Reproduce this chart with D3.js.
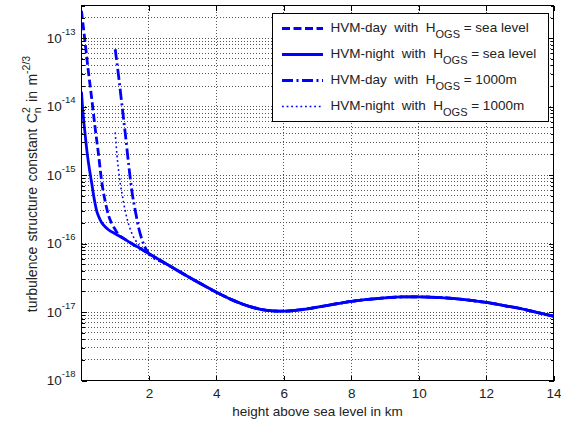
<!DOCTYPE html>
<html><head><meta charset="utf-8">
<script src="https://cdn.jsdelivr.net/npm/d3@7/dist/d3.min.js"></script>
<style>
html,body{margin:0;padding:0;background:#fff;}
svg{display:block;font-family:"Liberation Sans",Arial,Helvetica,sans-serif;}
text{white-space:pre;}
</style></head><body>
<svg id="chart" width="561" height="421"></svg>
<script>
// ---- data (height in km, Cn^2 in m^-2/3) ----
const tailHeights = [2,2.5,3,3.5,4,4.5,5,5.5,6,6.5,7,7.5,8,8.5,9,9.5,10,10.5,11,11.5,12,12.5,13,13.5,14];
const tailCn2 = [7.12e-17,5.10e-17,3.66e-17,2.65e-17,1.95e-17,1.48e-17,1.20e-17,1.06e-17,1.03e-17,1.08e-17,1.18e-17,1.30e-17,1.43e-17,1.53e-17,1.61e-17,1.66e-17,1.67e-17,1.64e-17,1.58e-17,1.49e-17,1.38e-17,1.25e-17,1.13e-17,9.9e-18,8.7e-18];

const daySeaHeights = [0,0.1,0.2,0.3,0.4,0.5,0.6,0.7,0.8,0.9,1.0,1.1,1.25,1.5,1.75];
const daySeaCn2 = [2.5e-13,9.3e-14,3.4e-14,1.35e-14,5.1e-15,2.1e-15,8.0e-16,4.2e-16,2.6e-16,1.95e-16,1.6e-16,1.35e-16,1.19e-16,9.95e-17,8.43e-17];

const nightSeaHeights = [0,0.05,0.1,0.15,0.2,0.25,0.3,0.35,0.4,0.45,0.5,0.6,0.7,0.8,1.0,1.25,1.5,1.75];
const nightSeaCn2 = [1.65e-14,7.5e-15,4.3e-15,2.5e-15,1.6e-15,1.1e-15,7.8e-16,5.4e-16,3.9e-16,3.0e-16,2.55e-16,2.02e-16,1.76e-16,1.59e-16,1.39e-16,1.18e-16,9.95e-17,8.43e-17];

const day1000Heights = [1.0,1.1,1.2,1.3,1.4,1.5,1.6,1.7,1.8,1.9];
const day1000Cn2 = [6.9e-14,2.8e-14,1.05e-14,4.0e-15,1.4e-15,5.6e-16,2.95e-16,1.66e-16,1.12e-16,8.5e-17];

const night1000Heights = [1.0,1.05,1.1,1.15,1.2,1.3,1.4,1.5,1.6,1.7,1.8];
const night1000Cn2 = [4.2e-15,2.0e-15,1.17e-15,7.6e-16,5.4e-16,2.95e-16,1.9e-16,1.38e-16,1.12e-16,9.5e-17,8.5e-17];

const xTickValues = [2,4,6,8,10,12,14];
const yTickExponents = [-18,-17,-16,-15,-14,-13];
const legendModels = ["HVM-day","HVM-night","HVM-day","HVM-night"];
const legendSites = ["sea level","sea level","1000m","1000m"];

// ---- build series ----
function series(h, v) {
  const pts = h.map((d, i) => [d, v[i]]);
  return pts.concat(tailHeights.map((d, i) => [d, tailCn2[i]]));
}
const allSeries = [
  {pts: series(daySeaHeights, daySeaCn2), dash: "8,3.5", w: 2.8},
  {pts: series(nightSeaHeights, nightSeaCn2), dash: null, w: 2.8},
  {pts: series(day1000Heights, day1000Cn2), dash: "11,3.5,2,3.5", w: 2.8},
  {pts: series(night1000Heights, night1000Cn2), dash: "1.8,2.8", w: 1.6}
];

const svg = d3.select("#chart");
const L = 81.5, R = 553.5, T = 5.5, B = 380.5;
const x = d3.scaleLinear().domain([0, 14]).range([L, R]);
const y = d3.scaleLog().domain([1e-18, 3e-13]).range([B, T]);
const yAll = y.ticks();
const yMajor = yTickExponents.map(e => Math.pow(10, e));

// grid
const grid = svg.append("g").attr("stroke", "#555").attr("stroke-width", 1)
  .attr("stroke-dasharray", "1,2").attr("shape-rendering", "crispEdges");
grid.selectAll("line.h").data(yAll).join("line").attr("class", "h")
  .attr("x1", L).attr("x2", R).attr("y1", d => y(d)).attr("y2", d => y(d));
grid.selectAll("line.v").data(xTickValues.filter(d => d < 14)).join("line").attr("class", "v")
  .attr("y1", T).attr("y2", B).attr("x1", d => x(d)).attr("x2", d => x(d));

// curves
svg.append("clipPath").attr("id", "clip").append("rect")
  .attr("x", L).attr("y", T).attr("width", R - L).attr("height", B - T);
const line = d3.line().x(d => x(d[0])).y(d => y(d[1])).curve(d3.curveMonotoneX);
const curves = svg.append("g").attr("clip-path", "url(#clip)");
allSeries.forEach(s => {
  curves.append("path").attr("d", line(s.pts)).attr("fill", "none")
    .attr("stroke", "#0000ff").attr("stroke-width", s.w)
    .attr("stroke-dasharray", s.dash);
});

// axes
const axG = svg.append("g").attr("shape-rendering", "crispEdges");
const xb = axG.append("g").attr("transform", `translate(0,${B})`)
  .call(d3.axisBottom(x).tickValues(xTickValues).tickSize(-5).tickSizeOuter(0).tickPadding(8));
const xt = axG.append("g").attr("transform", `translate(0,${T})`)
  .call(d3.axisTop(x).tickValues(xTickValues).tickSize(-5).tickSizeOuter(0).tickFormat(""));
const yl = axG.append("g").attr("transform", `translate(${L},0)`)
  .call(d3.axisLeft(y).tickValues(yAll).tickSize(-3).tickSizeOuter(0).tickFormat(""));
const yl2 = axG.append("g").attr("transform", `translate(${L},0)`)
  .call(d3.axisLeft(y).tickValues(yMajor).tickSize(-5).tickSizeOuter(0).tickFormat(""));
const yr = axG.append("g").attr("transform", `translate(${R},0)`)
  .call(d3.axisRight(y).tickValues(yAll).tickSize(-3).tickSizeOuter(0).tickFormat(""));
const yr2 = axG.append("g").attr("transform", `translate(${R},0)`)
  .call(d3.axisRight(y).tickValues(yMajor).tickSize(-5).tickSizeOuter(0).tickFormat(""));
[xb, xt, yl, yl2, yr, yr2].forEach(g => {
  g.select(".domain").remove();
  g.selectAll("line").attr("stroke", "#000");
});
xb.selectAll("text").attr("font-size", "13.5px").attr("fill", "#222")
  .attr("font-family", "Liberation Sans, Arial, sans-serif");
axG.append("rect").attr("x", L).attr("y", T).attr("width", R - L).attr("height", B - T)
  .attr("fill", "none").attr("stroke", "#000").attr("stroke-width", 1);

// y tick labels 10^n
const yLab = svg.append("g").attr("fill", "#222");
yTickExponents.forEach(e => {
  const t = yLab.append("text").attr("x", 75.5).attr("y", y(Math.pow(10, e)) + 4.5)
    .attr("text-anchor", "end").attr("font-size", "13.5px");
  t.append("tspan").text("10");
  t.append("tspan").attr("font-size", "9.5px").attr("dy", -8).text("-" + Math.abs(e));
});

// x label
svg.append("text").attr("x", (L + R) / 2).attr("y", 415.5).attr("text-anchor", "middle")
  .attr("font-size", "13.5px").attr("fill", "#222").text("height above sea level in km");

// y label
const ylab = svg.append("text").attr("transform", "translate(37,184) rotate(-90)")
  .attr("text-anchor", "middle").attr("font-size", "14px").attr("fill", "#222")
  .attr("word-spacing", "1.5px");
ylab.append("tspan").text("turbulence structure constant C");
ylab.append("tspan").attr("font-size", "10.5px").attr("dy", 4).text("n");
ylab.append("tspan").attr("font-size", "10.5px").attr("dx", -5.8).attr("dy", -11.5).text("2");
ylab.append("tspan").attr("dy", 7.5).text(" in m");
ylab.append("tspan").attr("font-size", "10.5px").attr("dy", -7.5).text("-2/3");

// legend
const lg = svg.append("g");
lg.append("rect").attr("x", 272.5).attr("y", 13.5).attr("width", 276).attr("height", 108)
  .attr("fill", "#fff").attr("stroke", "#000").attr("stroke-width", 1).attr("shape-rendering", "crispEdges");
legendModels.forEach((m, i) => {
  const ry = 28.5 + i * 26;
  const s = allSeries[i];
  lg.append("line").attr("x1", 282).attr("x2", 323).attr("y1", ry).attr("y2", ry)
    .attr("stroke", "#0000ff").attr("stroke-width", s.w).attr("stroke-dasharray", s.dash);
  const t = lg.append("text").attr("x", 330.5).attr("y", ry + 3.5)
    .attr("font-size", "13.5px").attr("fill", "#222");
  t.append("tspan").text(m + "  with  H");
  t.append("tspan").attr("font-size", "11px").attr("dy", 5.5).text("OGS");
  t.append("tspan").attr("dy", -5.5).text(" = " + legendSites[i]);
});
</script>
</body></html>
